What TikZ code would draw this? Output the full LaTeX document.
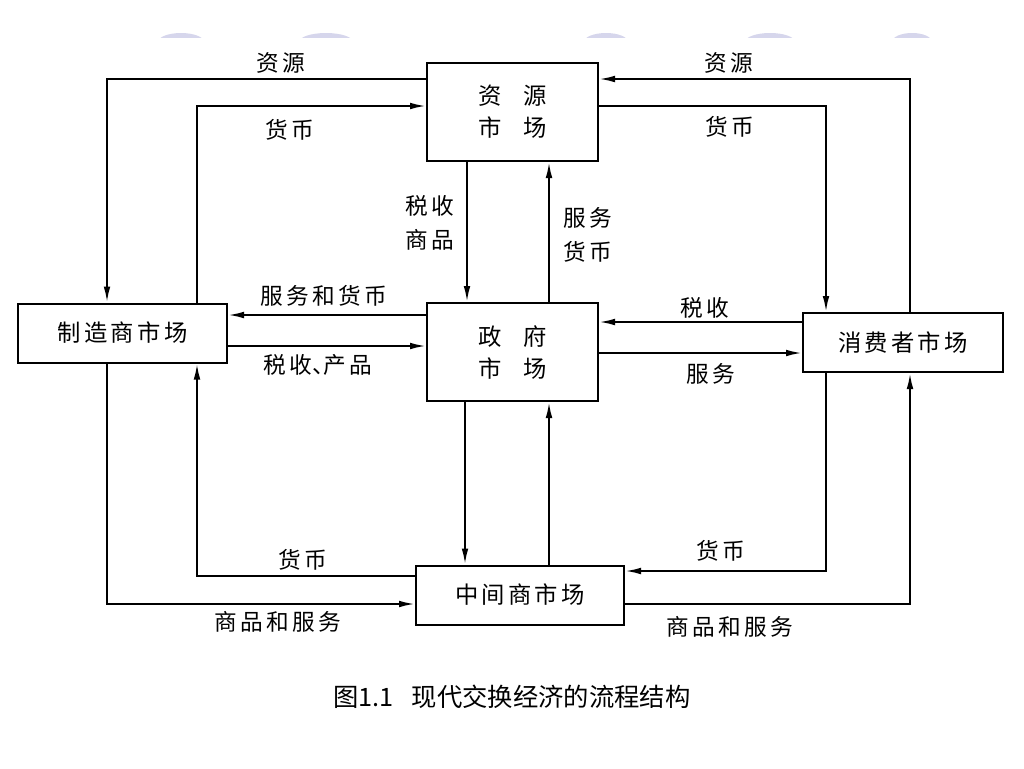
\documentclass[tikz,border=0pt]{standalone}
\usepackage{fontspec}
\setmainfont{Noto Sans CJK SC}
\newfontfamily\cjk[LetterSpace=14]{Noto Sans CJK SC}
\usetikzlibrary{arrows.meta}
\definecolor{deco}{RGB}{214,214,236}
\begin{document}
\begin{tikzpicture}[x=0.75pt,y=-0.75pt,
  box/.style={draw,line width=1.5pt,inner sep=0pt,align=center,
    font=\cjk\fontsize{17.5}{24}\selectfont},
  lab/.style={inner sep=0pt,align=center,font=\cjk\fontsize{17}{25}\selectfont},
  arr/.style={-{Latex[length=12pt,width=5pt]},line width=1.5pt}]
\useasboundingbox (0,0) rectangle (1024,768);
\fill[white] (0,0) rectangle (1024,768);
% faint decoration at top
\begin{scope}
\clip (0,0) rectangle (1024,37);
\foreach \cx/\w in {181/23,326/27,606/22,770/25,912/20}
  \fill[deco] (\cx,42) ellipse [x radius=\w, y radius=9];
\end{scope}
% boxes
\node[box,minimum width=171*0.75pt,minimum height=98*0.75pt] (zy) at (512.5,112) {资\hspace{0.95em}源\\市\hspace{0.95em}场};
\node[box,minimum width=171*0.75pt,minimum height=98*0.75pt] (zf) at (512.5,352) {政\hspace{0.95em}府\\市\hspace{0.95em}场};
\node[box,minimum width=209*0.75pt,minimum height=59*0.75pt] (zz) at (122.5,333) {制造商市场};
\node[box,minimum width=200*0.75pt,minimum height=59*0.75pt] (xf) at (903,342.5) {消费者市场};
\node[box,minimum width=208*0.75pt,minimum height=59*0.75pt] (zj) at (520,595) {中间商市场};
% helper coordinates
\coordinate (p1) at (107,79);
\coordinate (p2) at (197,106);
\coordinate (p3) at (910,79);
\coordinate (p4) at (826,106);
\coordinate (v1) at (467,0);
\coordinate (v2) at (549,0);
\coordinate (v3) at (465,0);
\coordinate (v4) at (549,0);
\coordinate (h1) at (0,315);
\coordinate (h2) at (0,346);
\coordinate (h3) at (0,322);
\coordinate (h4) at (0,353);
\coordinate (b1) at (197,576);
\coordinate (b2) at (107,604);
\coordinate (b3) at (826,571);
\coordinate (b4) at (910,604);
% connectors
\draw[arr] (zy.west |- p1) -| (zz.north -| p1);
\draw[arr] (zz.north -| p2) |- (zy.west |- p2);
\draw[arr] (xf.north -| p3) |- (zy.east |- p3);
\draw[arr] (zy.east |- p4) -| (xf.north -| p4);
\draw[arr] (zy.south -| v1) -- (zf.north -| v1);
\draw[arr] (zf.north -| v2) -- (zy.south -| v2);
\draw[arr] (zf.west |- h1) -- (zz.east |- h1);
\draw[arr] (zz.east |- h2) -- (zf.west |- h2);
\draw[arr] (xf.west |- h3) -- (zf.east |- h3);
\draw[arr] (zf.east |- h4) -- (xf.west |- h4);
\draw[arr] (zf.south -| v3) -- (zj.north -| v3);
\draw[arr] (zj.north -| v4) -- (zf.south -| v4);
\draw[arr] (zj.west |- b1) -| (zz.south -| b1);
\draw[arr] (zz.south -| b2) |- (zj.west |- b2);
\draw[arr] (xf.south -| b3) |- (zj.east |- b3);
\draw[arr] (zj.east |- b4) -| (xf.south -| b4);
% labels
\node[lab] (l1) at (281,63) {资源};
\node[lab] (l2) at (290,130) {货币};
\node[lab] (l3) at (729,63) {资源};
\node[lab] (l4) at (730,127) {货币};
\node[lab] (l5) at (430,223) {税收\\商品};
\node[lab] (l6) at (588,235) {服务\\货币};
\node[lab] (l7) at (324,296) {服务和货币};
\node[lab] (l8) at (318,365) {税收\makebox[0.5em][l]{、}产品};
\node[lab] (l9) at (705,308) {税收};
\node[lab] (l10) at (711,374) {服务};
\node[lab] (l11) at (303,560) {货币};
\node[lab] (l12) at (278,622) {商品和服务};
\node[lab] (l13) at (721,551) {货币};
\node[lab] (l14) at (730,627) {商品和服务};
% caption
\node[inner sep=0pt,font=\fontsize{19}{24}\selectfont] (cap) at (512,697) {图1.1\hspace{0.7em}现代交换经济的流程结构};
\end{tikzpicture}
\end{document}
